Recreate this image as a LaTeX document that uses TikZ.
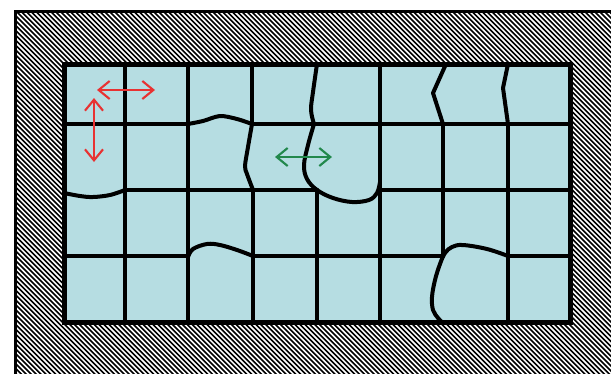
\documentclass[tikz,border=0pt]{standalone}
\usetikzlibrary{arrows.meta}
\definecolor{cellblue}{RGB}{182,221,226}
\definecolor{arrred}{RGB}{232,50,50}
\definecolor{arrgreen}{RGB}{34,136,76}
\begin{document}
\begin{tikzpicture}[x=1pt,y=-1pt,
  gridline/.style={line width=4.4pt,line cap=round,line join=round},
  crack/.style={line width=4pt,line cap=round,line join=round},
  hatchline/.style={line width=1.6pt},
  dblarrow/.style={line width=2.1pt,{Straight Barb[length=11pt,width=18pt]}-{Straight Barb[length=11pt,width=18pt]}}]
\useasboundingbox (0,0) rectangle (611,373);
\fill[white] (0,0) rectangle (611,373);
% hatched frame
\begin{scope}
  \clip (15.5,11.5) rectangle (640,400);
  \foreach \i in {-80,...,130} \draw[hatchline] (\i*4.9,0) -- ++(420,420);
\end{scope}
\draw[line width=3.4pt] (15.5,11.5) rectangle (640,400);
% cells
\fill[cellblue] (64,64) rectangle (570,322);
% straight vertical lines
\draw[gridline] (125,64) -- (125,322);
\draw[gridline] (188,64) -- (188,322);
\draw[gridline] (252,64) -- (252,124);
\draw[gridline] (253,190) -- (253,322);
\draw[gridline] (317,190) -- (317,322);
\draw[gridline] (380,64) -- (380,322);
\draw[gridline] (443,124) -- (443,256);
\draw[gridline] (508,124) -- (508,322);
% straight horizontal lines
\draw[gridline] (64,124) -- (188,124);
\draw[gridline] (252,124) -- (570,124);
\draw[gridline] (125,190) -- (317,190);
\draw[gridline] (380,190) -- (570,190);
\draw[gridline] (64,256) -- (188,256);
\draw[gridline] (253,256) -- (443,256);
\draw[gridline] (508,256) -- (570,256);
% cracks (displaced boundaries)
\draw[crack] plot[smooth,tension=0.6] coordinates {(317,64) (313,92) (311,110) (314,124)};
\draw[crack] plot[smooth,tension=0.6] coordinates {(314,124) (308,145) (304,165) (307,179) (317,190) (333,198) (352,202) (369,200) (377,193) (380,182)};
\draw[crack] (446,64) -- (433,93) -- (443,124);
\draw[crack] (508,64) -- (503,88) -- (508,124);
\draw[crack] plot[smooth,tension=0.5] coordinates {(188,124) (203,121) (220,116) (237,119) (252,124)};
\draw[crack] plot[smooth,tension=0.5] coordinates {(252,124) (248,147) (245,166) (247,174) (253,190)};
\draw[crack] plot[smooth,tension=0.6] coordinates {(64,193) (80,196) (93,197) (110,195) (125,190)};
\draw[crack] plot[smooth,tension=0.6] coordinates {(188,257) (193,249) (207,244) (220,245) (237,250) (253,256)};
\draw[crack] plot[smooth,tension=0.6] coordinates {(508,256) (487,249) (463,245) (452,247) (445,253) (440,264) (435,280) (432,297) (433,310) (438,318) (442,322)};
% outer border of the cells
\draw[line width=5pt] (64,64) rectangle (570,322);
% arrows
\coordinate (rh1) at (97,90);
\coordinate (rh2) at (155,90);
\coordinate (rv1) at (94,98);
\coordinate (rv2) at (94,162);
\coordinate (g1) at (275,157);
\coordinate (g2) at (332,157);
\draw[dblarrow,arrred] (rh1) -- (rh2);
\draw[dblarrow,arrred] (rv1) -- (rv2);
\draw[dblarrow,arrgreen] (g1) -- (g2);
\end{tikzpicture}
\end{document}
